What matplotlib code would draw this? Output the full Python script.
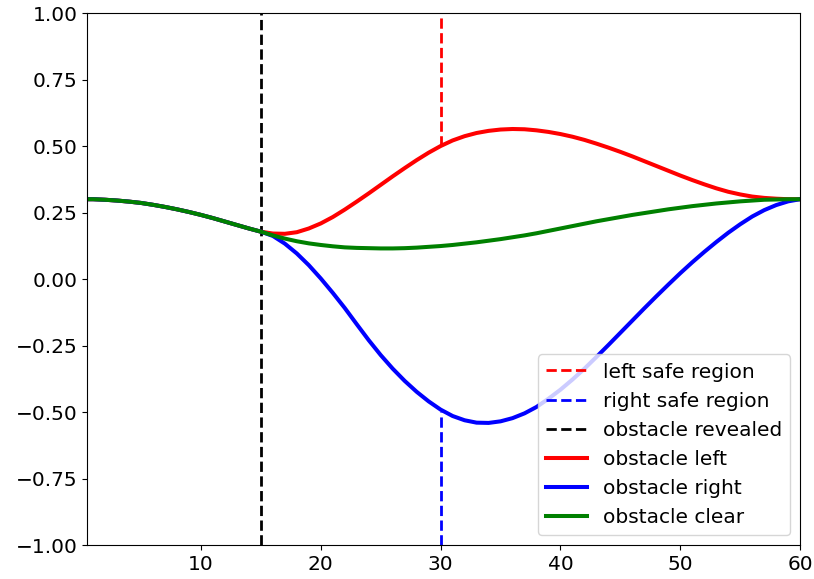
"""
Trajectory options around a revealed obstacle.
"""

import matplotlib
matplotlib.use('Agg')
import matplotlib.pyplot as plt

# time steps (x) and lateral position for each scenario
x = [0.5] + list(range(1, 61))

# shared path before the obstacle is revealed (x = 0.5 .. 15)
shared = [0.300, 0.300, 0.298, 0.295, 0.291, 0.286, 0.279, 0.271, 0.262,
          0.252, 0.241, 0.229, 0.216, 0.203, 0.190, 0.178]

# x = 16 .. 60
left_tail = [0.171, 0.170, 0.176, 0.190, 0.209, 0.233, 0.261, 0.291, 0.322,
             0.354, 0.386, 0.417, 0.447, 0.475, 0.500, 0.521, 0.537, 0.549,
             0.557, 0.562, 0.564, 0.563, 0.559, 0.553, 0.545, 0.535, 0.523,
             0.509, 0.494, 0.478, 0.461, 0.443, 0.425, 0.407, 0.389, 0.372,
             0.356, 0.341, 0.328, 0.318, 0.310, 0.305, 0.302, 0.300, 0.300]

right_tail = [0.162, 0.133, 0.096, 0.052, 0.002, -0.052, -0.109, -0.170,
              -0.230, -0.286, -0.337, -0.383, -0.424, -0.460, -0.491, -0.515,
              -0.531, -0.540, -0.541, -0.535, -0.523, -0.505, -0.481, -0.450,
              -0.416, -0.378, -0.337, -0.293, -0.248, -0.202, -0.156, -0.110,
              -0.065, -0.021, 0.022, 0.063, 0.102, 0.139, 0.174, 0.206, 0.235,
              0.259, 0.278, 0.292, 0.300]

clear_tail = [0.164, 0.152, 0.142, 0.134, 0.128, 0.123, 0.119, 0.117, 0.116,
              0.115, 0.115, 0.116, 0.118, 0.121, 0.124, 0.128, 0.133, 0.138,
              0.144, 0.150, 0.157, 0.164, 0.172, 0.181, 0.190, 0.199, 0.208,
              0.217, 0.225, 0.233, 0.241, 0.248, 0.255, 0.262, 0.268, 0.274,
              0.279, 0.284, 0.288, 0.292, 0.295, 0.298, 0.299, 0.300, 0.300]

obstacle_left = shared + left_tail
obstacle_right = shared + right_tail
obstacle_clear = shared + clear_tail

t_revealed = 15
t_safe = 30
left_safe_y = [0.5, 1.0]
right_safe_y = [-1.0, -0.5]

plt.rcParams['font.size'] = 14.5

fig, ax = plt.subplots(figsize=(8.14, 5.79), dpi=100)
fig.subplots_adjust(left=0.107, right=0.983, top=0.9775, bottom=0.0587)

ax.plot([t_safe, t_safe], left_safe_y, 'r--', lw=2, label='left safe region')
ax.plot([t_safe, t_safe], right_safe_y, 'b--', lw=2, label='right safe region')
ax.plot([t_revealed, t_revealed], [-1, 1], 'k--', lw=2,
        label='obstacle revealed')
ax.plot(x, obstacle_left, 'r-', lw=2.9, label='obstacle left')
ax.plot(x, obstacle_right, 'b-', lw=2.9, label='obstacle right')
ax.plot(x, obstacle_clear, 'g-', lw=2.9, label='obstacle clear')

ax.set_xlim(0.5, 60)
ax.set_ylim(-1, 1)
ax.set_xticks([10, 20, 30, 40, 50, 60])
ax.set_yticks([-1, -0.75, -0.5, -0.25, 0, 0.25, 0.5, 0.75, 1])
ax.legend(loc='lower right', fontsize=14.5)

plt.savefig('out.png', dpi=100)
plt.close()
